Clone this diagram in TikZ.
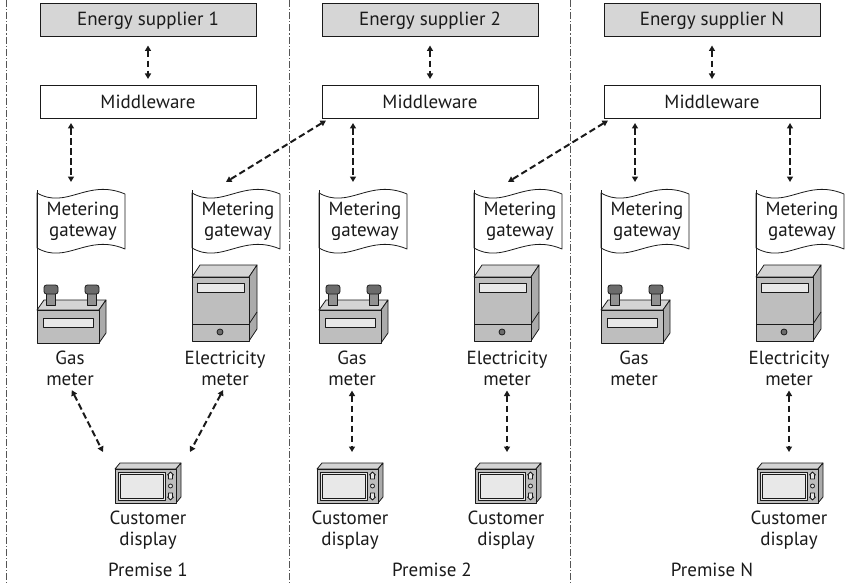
\documentclass[tikz,border=0pt]{standalone}
\usepackage{fontspec}
\setmainfont{PT Sans}
\usetikzlibrary{arrows.meta}

\definecolor{boxgray}{HTML}{D6D6D6}
\definecolor{metal}{HTML}{BEBEBE}
\definecolor{metallight}{HTML}{D4D4D4}
\definecolor{metaldark}{HTML}{ABABAB}
\definecolor{glass}{HTML}{E8E8E8}
\definecolor{knob}{HTML}{6C6C6C}
\definecolor{ink}{HTML}{1A1A1A}
\definecolor{sepline}{HTML}{555555}

\tikzset{
  lbl/.style={font=\fontsize{19}{21}\selectfont, text=ink, align=center, inner sep=1pt},
  premise/.style={lbl, inner sep=0pt},
  supplier/.style={lbl, draw=ink, line width=1pt, fill=boxgray, minimum width=216pt, minimum height=33pt, inner sep=0pt},
  mware/.style={supplier, fill=white},
  body/.style={draw=ink, line width=0.8pt, line join=round},
  pole/.style={draw=ink, line width=0.9pt},
  sep/.style={draw=sepline, line width=0.8pt, dash pattern=on 7pt off 2pt on 1.2pt off 2pt},
  link/.style={draw=ink, line width=2pt, dash pattern=on 6.5pt off 3.5pt,
    {Triangle[length=5.5pt,width=6pt]}-{Triangle[length=5.5pt,width=6pt]}},
  % flag-shaped gateway, origin at the top of its pole
  gateway/.pic={
    \coordinate (-top) at (0,0);
    \coordinate (-tip) at (34,-8);
    \draw[body, fill=white] (0,3) .. controls (30,20) and (50,-12) .. (88,4)
      -- (88,59) .. controls (50,43) and (30,75) .. (0,58) -- cycle;
    \node[lbl] (-txt) at (46,31) {Metering\\gateway};
  },
  % gas meter, origin at the top-left corner of the front face
  gasmeter/.pic={
    \coordinate (-corner) at (0,0);
    \draw[body, fill=metallight] (0,0) -- (7,-10) -- (69,-10) -- (62,0) -- cycle;
    \draw[body, fill=metaldark] (62,0) -- (69,-10) -- (69,23) -- (62,33) -- cycle;
    \draw[body, fill=metal] (0,0) rectangle (62,33);
    \draw[body, fill=glass] (6,8) rectangle (56,17);
    \foreach \k in {14,55}{
      \draw[body, fill=knob!75] (\k-4.5,-5) rectangle (\k+4.5,-19);
      \draw[body, fill=knob, rounded corners=2.5pt] (\k-7,-16) rectangle (\k+7,-25);
    }
  },
  % electricity meter, origin at the top-left corner of the front face
  elecmeter/.pic={
    \coordinate (-corner) at (0,0);
    \draw[body, fill=metallight] (0,0) -- (8,-12) -- (65,-12) -- (57,0) -- cycle;
    \draw[body, fill=metaldark] (57,0) -- (65,-12) -- (65,52) -- (57,64) -- cycle;
    \draw[body] (57,47) -- (65,35);
    \draw[body, fill=metal] (0,0) rectangle (57,64);
    \draw[body] (0,47) -- (57,47);
    \draw[body, fill=glass] (5,6) rectangle (52,15);
    \draw[body, fill=knob] (28,55) circle (3);
  },
  % customer display, origin at the top-left corner of the front face
  display/.pic={
    \coordinate (-l) at (-12,-17);
    \coordinate (-r) at (75,-17);
    \coordinate (-n) at (33,-6);
    \draw[body, fill=metallight] (0,0) -- (5,-6) -- (66,-6) -- (61,0) -- cycle;
    \draw[body, fill=metaldark] (61,0) -- (66,-6) -- (66,28) -- (61,34) -- cycle;
    \draw[body, fill=metal] (0,0) rectangle (61,34);
    \draw[body, fill=glass] (3,3) rectangle (50,31);
    \draw[body] (5,5) rectangle (48,29);
    \draw[body, fill=glass] (53.5,10) -- (53.5,6) -- (52.5,6) -- (55.5,3) -- (58.5,6) -- (57.5,6) -- (57.5,10) -- cycle;
    \draw[body, fill=glass] (55.5,17) circle (2);
    \draw[body, fill=glass] (53.5,24) -- (53.5,28) -- (52.5,28) -- (55.5,31) -- (58.5,28) -- (57.5,28) -- (57.5,24) -- cycle;
  }
}

\begin{document}
\begin{tikzpicture}[x=1pt,y=-1pt]
\useasboundingbox (0,0) rectangle (851,583);

% premise separators
\draw[sep] (6,0) -- (6,583);
\draw[sep] (289,0) -- (289,583);
\draw[sep] (570,0) -- (570,583);

% ---------- Premise 1 ----------
\node[supplier] (sup1) at (148,20.5) {Energy supplier 1};
\node[mware] (mw1) at (148,102) {Middleware};
\pic (g1a) at (37,190) {gateway};
\pic (g1b) at (192,190) {gateway};
\pic (gm1) at (37,310) {gasmeter};
\pic (em1) at (192,277) {elecmeter};
\draw[pole] (g1a-top) -- (gm1-corner);
\draw[pole] (g1b-top) -- (em1-corner);
\node[lbl] (lg1) at (70,368) {Gas\\meter};
\node[lbl] (le1) at (225,368) {Electricity\\meter};
\pic (cd1) at (115,469) {display};
\node[lbl] (lc1) at (148,530) {Customer\\display};
\node[premise] (pr1) at (148,570) {Premise 1};

% ---------- Premise 2 ----------
\node[supplier] (sup2) at (430,20.5) {Energy supplier 2};
\node[mware] (mw2) at (430,102) {Middleware};
\pic (g2a) at (319,190) {gateway};
\pic (g2b) at (474,190) {gateway};
\pic (gm2) at (319,310) {gasmeter};
\pic (em2) at (474,277) {elecmeter};
\draw[pole] (g2a-top) -- (gm2-corner);
\draw[pole] (g2b-top) -- (em2-corner);
\node[lbl] (lg2) at (352,368) {Gas\\meter};
\node[lbl] (le2) at (507,368) {Electricity\\meter};
\pic (cd2a) at (317,469) {display};
\pic (cd2b) at (475,469) {display};
\node[lbl] (lc2a) at (350,530) {Customer\\display};
\node[lbl] (lc2b) at (506,530) {Customer\\display};
\node[premise] (pr2) at (432,570) {Premise 2};

% ---------- Premise N ----------
\node[supplier] (supN) at (712,20.5) {Energy supplier N};
\node[mware] (mwN) at (712,102) {Middleware};
\pic (gNa) at (601,190) {gateway};
\pic (gNb) at (756,190) {gateway};
\pic (gmN) at (601,310) {gasmeter};
\pic (emN) at (756,277) {elecmeter};
\draw[pole] (gNa-top) -- (gmN-corner);
\draw[pole] (gNb-top) -- (emN-corner);
\node[lbl] (lgN) at (634,368) {Gas\\meter};
\node[lbl] (leN) at (789,368) {Electricity\\meter};
\pic (cdN) at (757,469) {display};
\node[lbl] (lcN) at (789,530) {Customer\\display};
\node[premise] (prN) at (712,570) {Premise N};

% ---------- supplier <-> middleware ----------
\draw[link, shorten <=8pt, shorten >=6pt] (sup1) -- (mw1);
\draw[link, shorten <=8pt, shorten >=6pt] (sup2) -- (mw2);
\draw[link, shorten <=8pt, shorten >=6pt] (supN) -- (mwN);

% ---------- middleware <-> metering gateways ----------
\draw[link, shorten <=4pt] (mw1.south -| g1a-tip) -- (g1a-tip);
\draw[link, shorten <=3pt] ([xshift=7pt]mw2.south west) -- (g1b-tip);
\draw[link, shorten <=4pt] (mw2.south -| g2a-tip) -- (g2a-tip);
\draw[link, shorten <=3pt] ([xshift=7pt]mwN.south west) -- (g2b-tip);
\draw[link, shorten <=4pt] (mwN.south -| gNa-tip) -- (gNa-tip);
\draw[link, shorten <=4pt] (mwN.south -| gNb-tip) -- (gNb-tip);

% ---------- meters <-> customer displays ----------
\draw[link, shorten <=4pt] (lg1.south) -- (cd1-l);
\draw[link, shorten <=4pt] (le1.south) -- (cd1-r);
\draw[link, shorten <=4pt, shorten >=11pt] (lg2.south) -- (lg2.south |- cd2a-n);
\draw[link, shorten <=4pt, shorten >=11pt] (le2.south) -- (le2.south |- cd2b-n);
\draw[link, shorten <=4pt, shorten >=11pt] (leN.south) -- (leN.south |- cdN-n);
\end{tikzpicture}
\end{document}
